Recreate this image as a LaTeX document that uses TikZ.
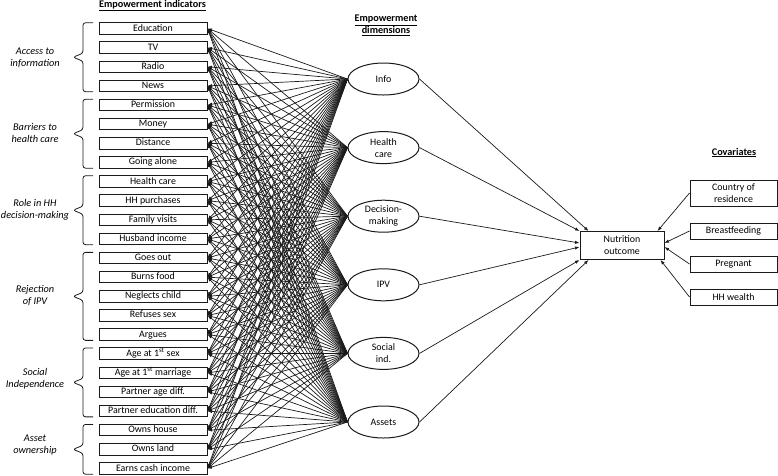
\documentclass[tikz,border=0pt]{standalone}
\usepackage{fontspec}
\setmainfont{Carlito}
\usetikzlibrary{arrows.meta,shapes.geometric,calc}
\definecolor{ink}{HTML}{1A1A1A}
\begin{document}
\begin{tikzpicture}[x=1pt,y=-1pt,
  ind/.style={draw=ink, line width=1pt, minimum width=108pt, minimum height=11.5pt, inner sep=0pt, text height=6.8pt, text depth=1.8pt, font=\fontsize{9.9}{11}\selectfont},
  dim/.style={draw=ink, ellipse, line width=1pt, minimum width=71pt, minimum height=32pt, inner sep=0pt, align=center, font=\fontsize{9.9}{12}\selectfont},
  cov/.style={draw=ink, line width=1pt, minimum width=87pt, inner sep=0pt, align=center, font=\fontsize{9.9}{12}\selectfont},
  fan/.style={draw=ink, line width=0.7pt, -{Latex[length=4.5pt,width=3.4pt]}},
  grp/.style={font=\itshape\fontsize{10.3}{12}\selectfont, align=center, inner sep=0pt},
  hdr/.style={font=\bfseries\fontsize{10.2}{12}\selectfont, align=center, inner sep=0pt},
  brc/.style={draw=ink, line width=0.8pt, rounded corners=2.5pt}]
\useasboundingbox (0,0) rectangle (778,475);

% headings
\node[hdr, anchor=base] (h1) at (152.5,7.5) {\underline{Empowerment indicators}};
\node[hdr] (h2) at (386,25.5) {\underline{Empowerment}\\\underline{dimensions}};
\node[hdr, anchor=base] (h3) at (734,155) {\underline{Covariates}};

% indicator boxes
\foreach \t [count=\i from 0] in {Education,TV,Radio,News,Permission,Money,Distance,Going alone,Health care,HH purchases,Family visits,Husband income,Goes out,Burns food,Neglects child,Refuses sex,Argues,Age at 1\textsuperscript{st} sex,Age at 1\textsuperscript{st} marriage,Partner age diff.,Partner education diff.,Owns house,Owns land,Earns cash income}
  \node[ind] (b\i) at (153,{28.5+19.13*\i}) {\t};

% braces and group labels
\foreach \ya/\yb/\yl/\lab [count=\g] in {22.75/91.65/57.5/{Access to\\information},99.25/168.15/132.5/{Barriers to\\health care},175.75/244.65/210/{Role in HH\\decision-making},252.35/340.35/296/{Rejection\\of IPV},347.95/416.85/379/{Social\\Independence},424.45/474.25/445.5/{Asset\\ownership}}{
  \coordinate (bt\g) at (93,\ya);
  \coordinate (bb\g) at (93,\yb);
  \draw[brc] (bt\g) -- (83,\ya) -- (83,{(\ya+\yb)/2-4}) -- (73,{(\ya+\yb)/2}) -- (83,{(\ya+\yb)/2+4}) -- (83,\yb) -- (bb\g);
  \node[grp] (g\g) at (35,\yl) {\lab};
}

% dimension ellipses
\node[dim] (e1) at (383.5,79) {Info};
\node[dim] (e2) at (383.5,147.6) {Health\\care};
\node[dim] (e3) at (383.5,216.2) {Decision-\\making};
\node[dim] (e4) at (383.5,284.8) {IPV};
\node[dim] (e5) at (383.5,353.4) {Social\\ind.};
\node[dim] (e6) at (383.5,422) {Assets};

% fan connectors
\foreach \j in {1,...,6}
  \foreach \i in {0,...,23}
    \draw[fan] (e\j.west) -- (b\i.east);

% nutrition outcome
\node[draw=ink, line width=1pt, minimum width=84pt, minimum height=28pt, inner sep=0pt, align=center, font=\fontsize{9.9}{12}\selectfont] (nut) at (622,245.5) {Nutrition\\outcome};

\draw[fan] (e1.east) -- ($(nut.north west)+(9,0)$);
\draw[fan] (e2.east) -- (nut.north west);
\draw[fan] (e3.east) -- ($(nut.west)+(0,-2.5)$);
\draw[fan] (e4.east) -- ($(nut.west)+(0,1.5)$);
\draw[fan] (e5.east) -- (nut.south west);
\draw[fan] (e6.east) -- ($(nut.south west)+(9,0)$);

% covariates
\node[cov, minimum height=26pt] (c1) at (733.5,193) {Country of\\residence};
\node[cov, minimum height=16pt] (c2) at (733.5,231) {Breastfeeding};
\node[cov, minimum height=16pt] (c3) at (733.5,264) {Pregnant};
\node[cov, minimum height=16pt] (c4) at (733.5,297) {HH wealth};

\draw[fan] (c1.west) -- ($(nut.north east)+(-7,0)$);
\draw[fan] (c2.west) -- ($(nut.east)+(0,-2.5)$);
\draw[fan] (c3.west) -- ($(nut.east)+(0,1.5)$);
\draw[fan] (c4.west) -- ($(nut.south east)+(-4,0)$);
\end{tikzpicture}
\end{document}
